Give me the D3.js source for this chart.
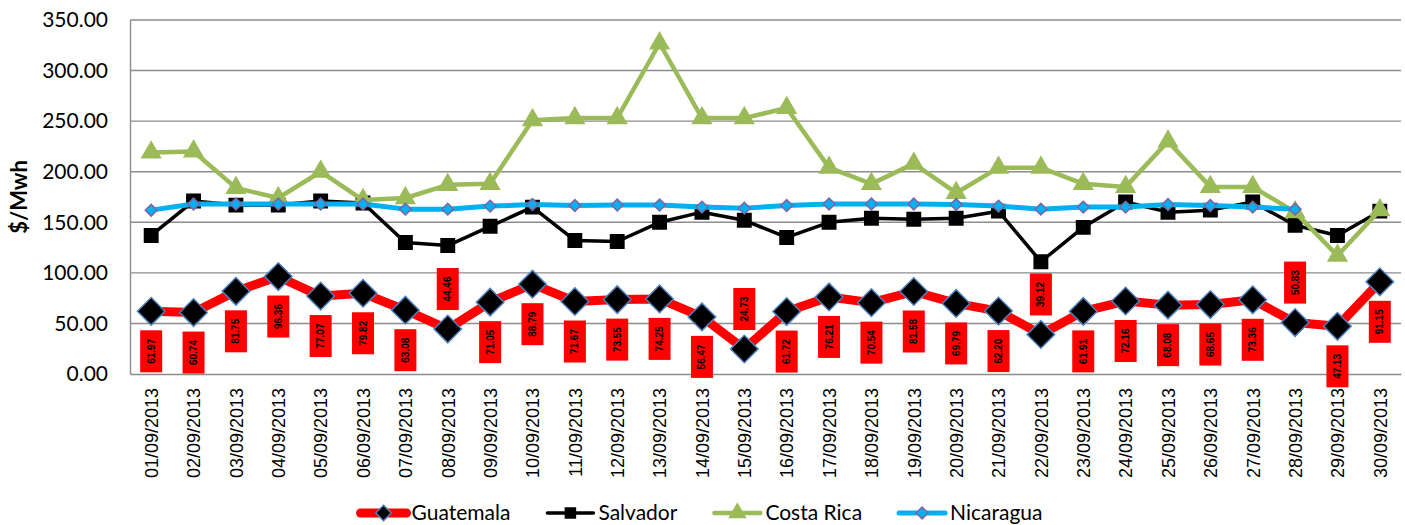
<!DOCTYPE html>
<html>
<head>
<meta charset="utf-8">
<script src="https://cdn.jsdelivr.net/npm/d3@7"></script>
<style>
  body { margin: 0; background: #fff; }
  svg { display: block; }
</style>
</head>
<body>
<div id="chart"></div>
<script>
var dates = ["01/09/2013", "02/09/2013", "03/09/2013", "04/09/2013", "05/09/2013", "06/09/2013",
  "07/09/2013", "08/09/2013", "09/09/2013", "10/09/2013", "11/09/2013", "12/09/2013",
  "13/09/2013", "14/09/2013", "15/09/2013", "16/09/2013", "17/09/2013", "18/09/2013",
  "19/09/2013", "20/09/2013", "21/09/2013", "22/09/2013", "23/09/2013", "24/09/2013",
  "25/09/2013", "26/09/2013", "27/09/2013", "28/09/2013", "29/09/2013", "30/09/2013"];

var guatemala = [61.97, 60.74, 81.75, 96.36, 77.07, 79.82, 63.08, 44.46, 71.05, 88.79,
  71.67, 73.55, 74.25, 56.47, 24.73, 61.72, 76.21, 70.54, 81.58, 69.79,
  62.20, 39.12, 61.91, 72.16, 68.08, 68.65, 73.36, 50.83, 47.13, 91.15];
var salvador = [137, 171, 167, 167, 171, 169, 130, 127, 146, 165,
  132, 131, 150, 160, 152, 135, 150, 154, 153, 154,
  161, 111, 145, 170, 160, 162, 170, 147, 137, 161];
var costaRica = [219, 220, 184, 174, 200, 172, 174, 187, 188, 251,
  253, 253, 327, 253, 253, 263, 204, 188, 208, 179,
  204, 204, 188, 185, 230, 185, 185, 160, 117, 162];
var nicaragua = [162, 168, 168, 168, 168, 168, 163, 163, 166, 167.5,
  166.5, 167, 167, 165, 164, 166.5, 168, 168, 168, 167.5,
  166, 163, 165, 165, 167.5, 166.5, 165, 163, null, null];

// Guatemala data labels that sit above their point
var labelAbove = ["08/09/2013", "15/09/2013", "22/09/2013", "28/09/2013"];

var yTicks = [0, 50, 100, 150, 200, 250, 300, 350];

var width = 1405, height = 525;
var margin = {top: 20, right: 4, bottom: 151, left: 130};
var plotW = width - margin.left - margin.right;
var plotH = height - margin.top - margin.bottom;

var svg = d3.select("#chart").append("svg")
  .attr("width", width)
  .attr("height", height);

var g = svg.append("g")
  .attr("transform", "translate(" + margin.left + "," + margin.top + ")");

var x = d3.scalePoint().domain(dates).range([0, plotW]).padding(0.5);
var y = d3.scaleLinear().domain([0, 350]).range([plotH, 0]);

// gridlines
g.selectAll(".grid")
  .data(yTicks.slice(1))
  .enter().append("line")
  .attr("x1", 0).attr("x2", plotW)
  .attr("y1", function(d) { return y(d); })
  .attr("y2", function(d) { return y(d); })
  .attr("stroke", "#8c8c8c")
  .attr("stroke-width", 1.4);

// Y axis
var yAxis = g.append("g")
  .call(d3.axisLeft(y).tickValues(yTicks).tickFormat(d3.format(".2f")).tickSize(0).tickPadding(22));
yAxis.select(".domain").attr("stroke", "#8c8c8c").attr("stroke-width", 1.4);
yAxis.selectAll("text")
  .style("font-family", "Lato, sans-serif")
  .style("font-size", "21px")
  .attr("fill", "#000");

svg.append("text")
  .attr("transform", "translate(19," + (margin.top + plotH / 2) + ") rotate(-90)")
  .attr("text-anchor", "middle")
  .attr("dy", "0.35em")
  .style("font-family", "Lato, sans-serif")
  .style("font-size", "22px")
  .style("font-weight", "bold")
  .text("$/Mwh");

// X axis
var xAxis = g.append("g")
  .attr("transform", "translate(0," + plotH + ")")
  .call(d3.axisBottom(x).tickSize(0));
xAxis.select(".domain").attr("stroke", "#8c8c8c").attr("stroke-width", 1.4);
xAxis.selectAll("text")
  .attr("transform", "rotate(-90)")
  .attr("x", -14)
  .attr("y", 0)
  .attr("dy", "0.35em")
  .style("text-anchor", "end")
  .style("font-family", "'Liberation Sans', Arial, sans-serif")
  .style("font-size", "18px")
  .attr("fill", "#000");

function lineFor(values) {
  return d3.line()
    .defined(function(d) { return d != null; })
    .x(function(d, i) { return x(dates[i]); })
    .y(function(d) { return y(d); })(values);
}

var diamond = function(size) { return d3.symbol().type(d3.symbolSquare).size(size)(); };

var series = [
  {name: "Guatemala", values: guatemala, color: "#ff0000", width: 9,
    marker: diamond(380), rotate: 45, fill: "#000", stroke: "#4f81bd", legendMarker: diamond(120)},
  {name: "Salvador", values: salvador, color: "#000", width: 3.5,
    marker: d3.symbol().type(d3.symbolSquare).size(180)(), rotate: 0, fill: "#000", stroke: "#000",
    legendMarker: d3.symbol().type(d3.symbolSquare).size(100)()},
  {name: "Costa Rica", values: costaRica, color: "#9bbb59", width: 4.5,
    marker: d3.symbol().type(d3.symbolTriangle).size(150)(), rotate: 0, fill: "#9bbb59", stroke: "#9bbb59",
    legendMarker: d3.symbol().type(d3.symbolTriangle).size(110)()},
  {name: "Nicaragua", values: nicaragua, color: "#00b0f0", width: 5,
    marker: diamond(70), rotate: 45, fill: "#00b0f0", stroke: "#8064a2", legendMarker: diamond(70)}
];

series.forEach(function(s) {
  g.append("path")
    .attr("d", lineFor(s.values))
    .attr("fill", "none")
    .attr("stroke", s.color)
    .attr("stroke-width", s.width)
    .attr("stroke-linejoin", "round")
    .attr("stroke-linecap", "round");

  g.selectAll(null)
    .data(s.values.map(function(v, i) { return {v: v, date: dates[i]}; })
      .filter(function(d) { return d.v != null; }))
    .enter().append("path")
    .attr("d", s.marker)
    .attr("transform", function(d) {
      return "translate(" + x(d.date) + "," + y(d.v) + ") rotate(" + s.rotate + ")";
    })
    .attr("fill", s.fill)
    .attr("stroke", s.stroke)
    .attr("stroke-width", 1.5);
});

// Guatemala data labels
var labels = g.selectAll(".lbl")
  .data(guatemala.map(function(v, i) { return {v: v, date: dates[i]}; }))
  .enter().append("g")
  .attr("transform", function(d) {
    var off = labelAbove.indexOf(d.date) >= 0 ? -40 : 40;
    return "translate(" + x(d.date) + "," + (y(d.v) + off) + ")";
  });
labels.append("rect")
  .attr("x", -11).attr("y", -21)
  .attr("width", 22).attr("height", 42)
  .attr("fill", "#ff0000");
labels.append("text")
  .attr("transform", "rotate(-90)")
  .attr("text-anchor", "middle")
  .attr("dy", "0.35em")
  .style("font-family", "'Liberation Sans', Arial, sans-serif")
  .style("font-size", "10px")
  .style("font-weight", "bold")
  .text(function(d) { return d.v.toFixed(2); });

// Legend
var legend = svg.append("g").attr("transform", "translate(0,513)");
var items = legend.selectAll(".item").data(series).enter().append("g");
items.append("text")
  .attr("x", 54)
  .attr("dy", "0.35em")
  .style("font-family", "Lato, sans-serif")
  .style("font-size", "21px")
  .text(function(d) { return d.name; });
var widths = [];
items.each(function() { widths.push(54 + d3.select(this).select("text").node().getComputedTextLength()); });
var gap = 34;
var total = d3.sum(widths) + gap * (widths.length - 1);
var pos = 700 - total / 2;
items.attr("transform", function(d, i) {
  var p = pos;
  pos += widths[i] + gap;
  return "translate(" + p + ",0)";
});
items.append("line")
  .attr("x1", 3).attr("x2", 49)
  .attr("stroke", function(d) { return d.color; })
  .attr("stroke-width", function(d) { return d.width; })
  .attr("stroke-linecap", "round");
items.append("path")
  .attr("d", function(d) { return d.legendMarker; })
  .attr("transform", function(d) { return "translate(26,0) rotate(" + d.rotate + ")"; })
  .attr("fill", function(d) { return d.fill; })
  .attr("stroke", function(d) { return d.stroke; })
  .attr("stroke-width", 1.5);
</script>
</body>
</html>
